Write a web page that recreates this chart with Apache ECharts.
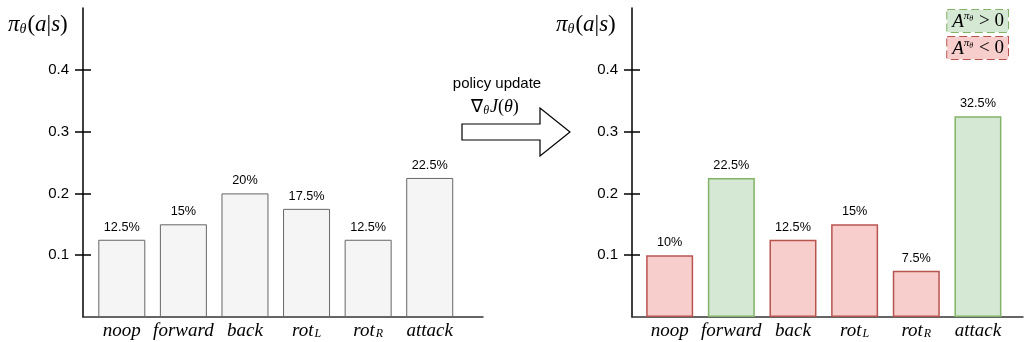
<!DOCTYPE html>
<html>
<head>
<meta charset="utf-8">
<script src="https://cdn.jsdelivr.net/npm/echarts@6/dist/echarts.min.js"></script>
<style>
html,body{margin:0;padding:0;background:#fff;}
#chart{width:1024px;height:342px;}
</style>
</head>
<body>
<div id="chart"></div>
<script>
// ---- data ----
const categories = ['noop', 'forward', 'back', 'rot_L', 'rot_R', 'attack'];
const beforeValues = [0.125, 0.15, 0.20, 0.175, 0.125, 0.225];
const afterValues = [0.10, 0.225, 0.125, 0.15, 0.075, 0.325];
const afterAdvantage = ['neg', 'pos', 'neg', 'neg', 'neg', 'pos'];
const yTicks = [0.1, 0.2, 0.3, 0.4];
const catIdx = categories.map((c, i) => i);

const chart = echarts.init(document.getElementById('chart'), null, {renderer: 'canvas'});

const serif = 'Liberation Serif';
const sans = 'Liberation Sans';

function catLabel(v) {
  const name = categories[Math.round(v)];
  if (name === undefined) return '';
  const parts = name.split('_');
  return parts.length > 1 ? '{i|' + parts[0] + '}{sub|' + parts[1] + '}' : '{i|' + name + '}';
}
const xRich = {
  i: {fontFamily: serif, fontStyle: 'italic', fontSize: 19, color: '#000'},
  sub: {fontFamily: serif, fontStyle: 'italic', fontSize: 12, color: '#000', padding: [7, 0, 0, 1]}
};
function pct(p) { return Math.round(p.value[1] * 1000) / 10 + '%'; }

function xAxisCfg(grid, min, max) {
  return {
    type: 'value', gridIndex: grid, min: min, max: max,
    axisLine: {show: true, onZero: false, lineStyle: {color: '#333', width: 1.5}},
    axisTick: {show: false},
    splitLine: {show: false},
    axisLabel: {customValues: catIdx, formatter: catLabel, rich: xRich, margin: 4}
  };
}
function yAxisCfg(grid) {
  return {
    type: 'value', gridIndex: grid, position: 'left', min: 0, max: 0.5, interval: 0.1,
    axisLine: {show: true, onZero: false, lineStyle: {color: '#000', width: 1.5}},
    axisTick: {show: true, customValues: yTicks, length: 8, lineStyle: {color: '#000', width: 1.5}},
    splitLine: {show: false},
    axisLabel: {customValues: yTicks, formatter: v => v.toFixed(1), fontFamily: sans, fontSize: 15, color: '#000', margin: 14}
  };
}
function yInnerCfg(grid) {
  return {
    type: 'value', gridIndex: grid, position: 'left', offset: 0, min: 0, max: 0.5, interval: 0.1,
    axisLine: {show: false, onZero: false},
    axisTick: {show: true, inside: true, customValues: yTicks, length: 8, lineStyle: {color: '#000', width: 1.5}},
    splitLine: {show: false},
    axisLabel: {show: false}
  };
}
const titleRich = {
  p: {fontFamily: serif, fontStyle: 'italic', fontWeight: 'normal', fontSize: 23, color: '#000'},
  s: {fontFamily: serif, fontStyle: 'italic', fontWeight: 'normal', fontSize: 14, color: '#000', padding: [9, 1, 0, 0]},
  n: {fontFamily: serif, fontWeight: 'normal', fontSize: 23, color: '#000'},
  i: {fontFamily: serif, fontStyle: 'italic', fontWeight: 'normal', fontSize: 23, color: '#000'}
};
const titleText = '{p|π}{s|θ}{n|(}{i|a}{n||}{i|s}{n|)}';
const legRich = {
  a: {fontFamily: serif, fontStyle: 'italic', fontSize: 19, color: '#000'},
  sp: {fontFamily: serif, fontStyle: 'italic', fontSize: 11, color: '#000', padding: [0, 0, 10, 0]},
  ss: {fontFamily: serif, fontStyle: 'italic', fontSize: 8, color: '#000', padding: [0, 1, 6, 0]},
  b: {fontFamily: serif, fontSize: 19, color: '#000'}
};
const barLabel = {show: true, position: 'top', distance: 6, formatter: pct, fontFamily: sans, fontSize: 12.7, color: '#000'};

const option = {
  animation: false,
  backgroundColor: '#fff',
  title: [
    {text: titleText, left: 3, top: 8, textStyle: {fontWeight: 'normal', rich: titleRich}},
    {text: titleText, left: 551, top: 8, textStyle: {fontWeight: 'normal', rich: titleRich}}
  ],
  legend: {
    orient: 'vertical', right: 10, top: 4, itemGap: 3, icon: 'none', itemWidth: 0, itemHeight: 0,
    selectedMode: false,
    formatter: n => n === 'pos' ? '{a|A}{sp|π}{ss|θ}{b| > 0}' : '{a|A}{sp|π}{ss|θ}{b| < 0}',
    textStyle: {rich: legRich, fontSize: 19, padding: [1, 4, 0, 5], borderType: 'dashed', borderWidth: 1},
    data: [
      {name: 'pos', textStyle: {backgroundColor: '#d5e8d4', borderColor: '#82b366', borderType: 'dashed', borderWidth: 1}},
      {name: 'neg', textStyle: {backgroundColor: '#f8cecc', borderColor: '#b85450', borderType: 'dashed', borderWidth: 1}}
    ]
  },
  grid: [
    {left: 83, top: 8, width: 400, height: 309, outerBoundsMode: 'none', containLabel: false},
    {left: 632, top: 8, width: 391, height: 309, outerBoundsMode: 'none', containLabel: false}
  ],
  xAxis: [xAxisCfg(0, -0.63, 5.865), xAxisCfg(1, -0.611, 5.731)],
  yAxis: [yAxisCfg(0), yAxisCfg(1), yInnerCfg(0), yInnerCfg(1)],
  graphic: [
    {type: 'polygon', shape: {points: [[462, 124], [540, 124], [540, 108], [570, 132], [540, 156], [540, 140], [462, 140]]},
     style: {fill: '#fff', stroke: '#000', lineWidth: 1.2}},
    {type: 'text', x: 497, y: 84, style: {text: 'policy update', fontFamily: sans, fontSize: 15, fill: '#000', align: 'center', verticalAlign: 'middle'}},
    {type: 'text', x: 495, y: 107, style: {
      text: '{n|∇}{s|θ}{i|J}{n|(}{i|θ}{n|)}', align: 'center', verticalAlign: 'middle',
      rich: {
        n: {fontFamily: serif, fontSize: 18, fill: '#000'},
        i: {fontFamily: serif, fontStyle: 'italic', fontSize: 18, fill: '#000'},
        s: {fontFamily: serif, fontStyle: 'italic', fontSize: 12, fill: '#000', padding: [8, 1, 0, 0]}
      }}}
  ],
  series: [
    {
      name: 'before', type: 'bar', xAxisIndex: 0, yAxisIndex: 0, barWidth: 47,
      data: beforeValues.map((v, i) => [i, v]),
      itemStyle: {color: '#f5f5f5', borderColor: '#666666', borderWidth: 1},
      label: barLabel
    },
    {
      name: 'pos', type: 'bar', xAxisIndex: 1, yAxisIndex: 1, barWidth: 47, barGap: '-100%',
      data: afterValues.map((v, i) => afterAdvantage[i] === 'pos' ? [i, v] : null).filter(d => d),
      itemStyle: {color: '#d5e8d4', borderColor: '#82b366', borderWidth: 1.5},
      label: barLabel
    },
    {
      name: 'neg', type: 'bar', xAxisIndex: 1, yAxisIndex: 1, barWidth: 47, barGap: '-100%',
      data: afterValues.map((v, i) => afterAdvantage[i] === 'neg' ? [i, v] : null).filter(d => d),
      itemStyle: {color: '#f8cecc', borderColor: '#b85450', borderWidth: 1.5},
      label: barLabel
    }
  ]
};
chart.setOption(option);
</script>
</body>
</html>
